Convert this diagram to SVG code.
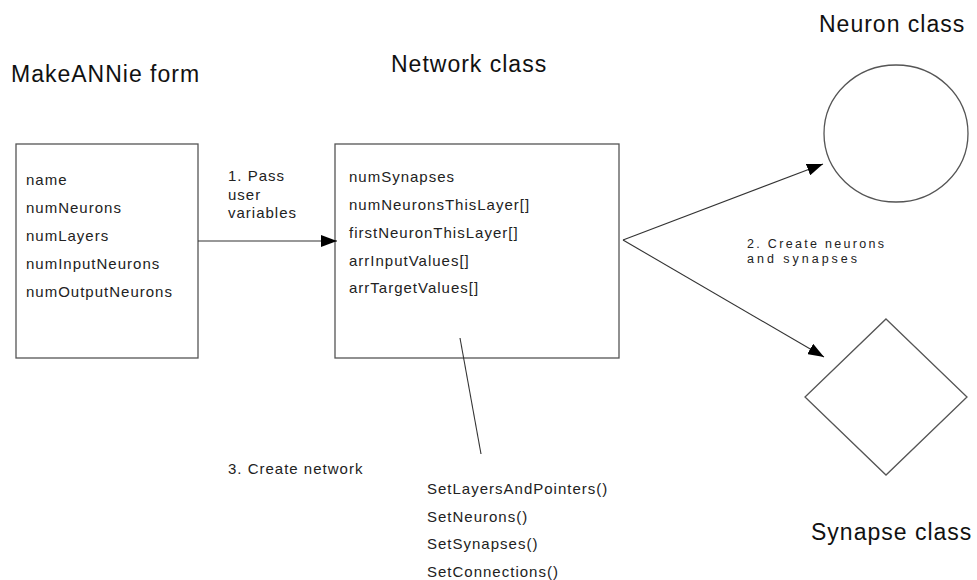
<svg xmlns="http://www.w3.org/2000/svg" width="977" height="580" viewBox="0 0 977 580">
<style>
  .shape { fill: #ffffff; stroke: #555555; stroke-width: 1.3; }
  .conn { fill: none; stroke: #333333; stroke-width: 1.1; }
  .title { font-family: "Liberation Sans", Arial, sans-serif; font-size: 23px; letter-spacing: 1px; fill: #111111; }
  .txt { font-family: "Liberation Sans", Arial, sans-serif; font-size: 15px; letter-spacing: 1px; fill: #222222; }
  .small { font-family: "Liberation Sans", Arial, sans-serif; font-size: 12.5px; fill: #222222; }
</style>
<defs>
  <marker id="arrow" markerUnits="userSpaceOnUse" markerWidth="16" markerHeight="12" refX="16" refY="6" orient="auto">
    <path d="M0,0 L16,6 L0,12 z" fill="#000000"/>
  </marker>
</defs>
<rect width="977" height="580" fill="#ffffff"/>

<g id="makeannie-form">
  <text class="title" x="11" y="82">MakeANNie form</text>
  <rect class="shape" x="16" y="144" width="182" height="214"/>
  <text class="txt" x="26" y="185">name</text>
  <text class="txt" x="26" y="213">numNeurons</text>
  <text class="txt" x="26" y="241">numLayers</text>
  <text class="txt" x="26" y="269">numInputNeurons</text>
  <text class="txt" x="26" y="297">numOutputNeurons</text>
</g>

<g id="network-class">
  <text class="title" x="391" y="72">Network class</text>
  <rect class="shape" x="335" y="144" width="284" height="214"/>
  <text class="txt" x="349" y="182">numSynapses</text>
  <text class="txt" x="349" y="210">numNeuronsThisLayer[]</text>
  <text class="txt" x="349" y="238">firstNeuronThisLayer[]</text>
  <text class="txt" x="349" y="266">arrInputValues[]</text>
  <text class="txt" x="349" y="293">arrTargetValues[]</text>
</g>

<g id="neuron-class">
  <text class="title" x="819" y="32">Neuron class</text>
  <ellipse class="shape" cx="896" cy="133.5" rx="72" ry="68.5"/>
</g>

<g id="synapse-class">
  <polygon class="shape" points="886,319 967,397 886,475 805,397"/>
  <text class="title" x="811" y="540">Synapse class</text>
</g>

<g id="methods">
  <text class="txt" x="427" y="494">SetLayersAndPointers()</text>
  <text class="txt" x="427" y="522">SetNeurons()</text>
  <text class="txt" x="427" y="549">SetSynapses()</text>
  <text class="txt" x="427" y="577">SetConnections()</text>
</g>

<g id="connectors">
  <line class="conn" x1="198" y1="241" x2="337" y2="241" marker-end="url(#arrow)"/>
  <text class="txt" x="228" y="181">1. Pass</text>
  <text class="txt" x="228" y="199.5">user</text>
  <text class="txt" x="228" y="218">variables</text>

  <line class="conn" x1="623" y1="240" x2="823" y2="164" marker-end="url(#arrow)"/>
  <line class="conn" x1="623" y1="240" x2="824" y2="357" marker-end="url(#arrow)"/>
  <text class="small" x="747" y="247.5" textLength="137" lengthAdjust="spacing">2. Create neurons</text>
  <text class="small" x="747" y="262.5" textLength="110" lengthAdjust="spacing">and synapses</text>

  <line class="conn" x1="460" y1="338" x2="481" y2="454"/>
  <text class="txt" x="228" y="474">3. Create network</text>
</g>
</svg>
